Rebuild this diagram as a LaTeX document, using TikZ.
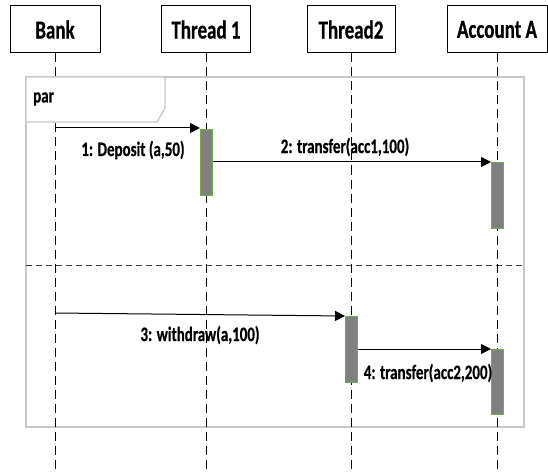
\documentclass[tikz,border=0pt]{standalone}
\usepackage{fontspec}
\setmainfont[FakeStretch=0.73, BoldFeatures={FakeBold=0.6}]{Carlito}
\usetikzlibrary{arrows.meta}

\definecolor{actfill}{HTML}{808080}
\definecolor{actedge}{HTML}{70AD47}
\definecolor{framegray}{HTML}{C8C8C8}
\definecolor{sepgray}{HTML}{404040}

\tikzset{
  header/.style={draw=black, line width=1pt, fill=white, inner sep=0pt,
    minimum height=47pt, font=\fontsize{26}{28}\selectfont\bfseries},
  lifeline/.style={draw=black, line width=1pt, dash pattern=on 9pt off 5pt},
  activation/.style={draw=actedge, line width=0.8pt, fill=actfill, inner sep=0pt,
    minimum width=12pt, anchor=north west},
  msg/.style={draw=black, line width=1pt, -{Triangle[length=10pt,width=10pt]}},
  msglabel/.style={inner sep=0pt, font=\fontsize{20.5}{22}\selectfont\bfseries},
  frameline/.style={draw=framegray, line width=1.3pt},
  separator/.style={draw=sepgray, line width=1pt, dash pattern=on 6pt off 4pt}
}

\begin{document}
\begin{tikzpicture}[x=1pt, y=-1pt]
\useasboundingbox (0,0) rectangle (548,473);

% combined fragment (par) and its operand separator
\draw[frameline] (26,77) rectangle (524,427);
\draw[separator] (26,265) -- (524,265);

% participants
\node[header, minimum width=90pt] (bank) at (55,29.5) {Bank};
\node[header, minimum width=89pt] (t1) at (206,29.5) {Thread 1};
\node[header, minimum width=88pt] (t2) at (351,29.5) {Thread2};
\node[header, minimum width=100pt] (acc) at (497,29.5) {Account A};

% lifeline ends
\coordinate (bankend) at (55,473);
\coordinate (t1end) at (206,473);
\coordinate (t2end) at (351,473);
\coordinate (accend) at (497,473);

\draw[lifeline] (bank.south) -- (bankend);
\draw[lifeline] (t1.south) -- (t1end);
\draw[lifeline] (t2.south) -- (t2end);
\draw[lifeline] (acc.south) -- (accend);

% fragment name tab, drawn over the lifeline
\draw[frameline, fill=white] (26,77) -- (26,122) -- (157,122) -- (165,108) -- (165,77) -- cycle;
\node[msglabel, anchor=west] (par) at (33,99) {par};

% activation bars
\node[activation, minimum height=66pt] (act1) at (200,129) {};
\node[activation, minimum height=66pt] (act2) at (491,162) {};
\node[activation, minimum height=66pt] (act3) at (345,316) {};
\node[activation, minimum height=65pt] (act4) at (491,349) {};

% messages
\coordinate (m1) at (55,128);
\coordinate (m3) at (55,313);
\draw[msg] (m1) -- (m1 -| act1.west);
\draw[msg] (act1.east |- act2.north) -- (act2.north west);
\draw[msg] (m3) -- (act3.north west);
\draw[msg] (act3.east |- act4.north) -- (act4.north west);

\node[msglabel] (l1) at (133,150) {1: Deposit (a,50)};
\node[msglabel] (l2) at (345,147) {2: transfer(acc1,100)};
\node[msglabel] (l3) at (200,335) {3: withdraw(a,100)};
\node[msglabel] (l4) at (428,373) {4: transfer(acc2,200)};
\end{tikzpicture}
\end{document}
